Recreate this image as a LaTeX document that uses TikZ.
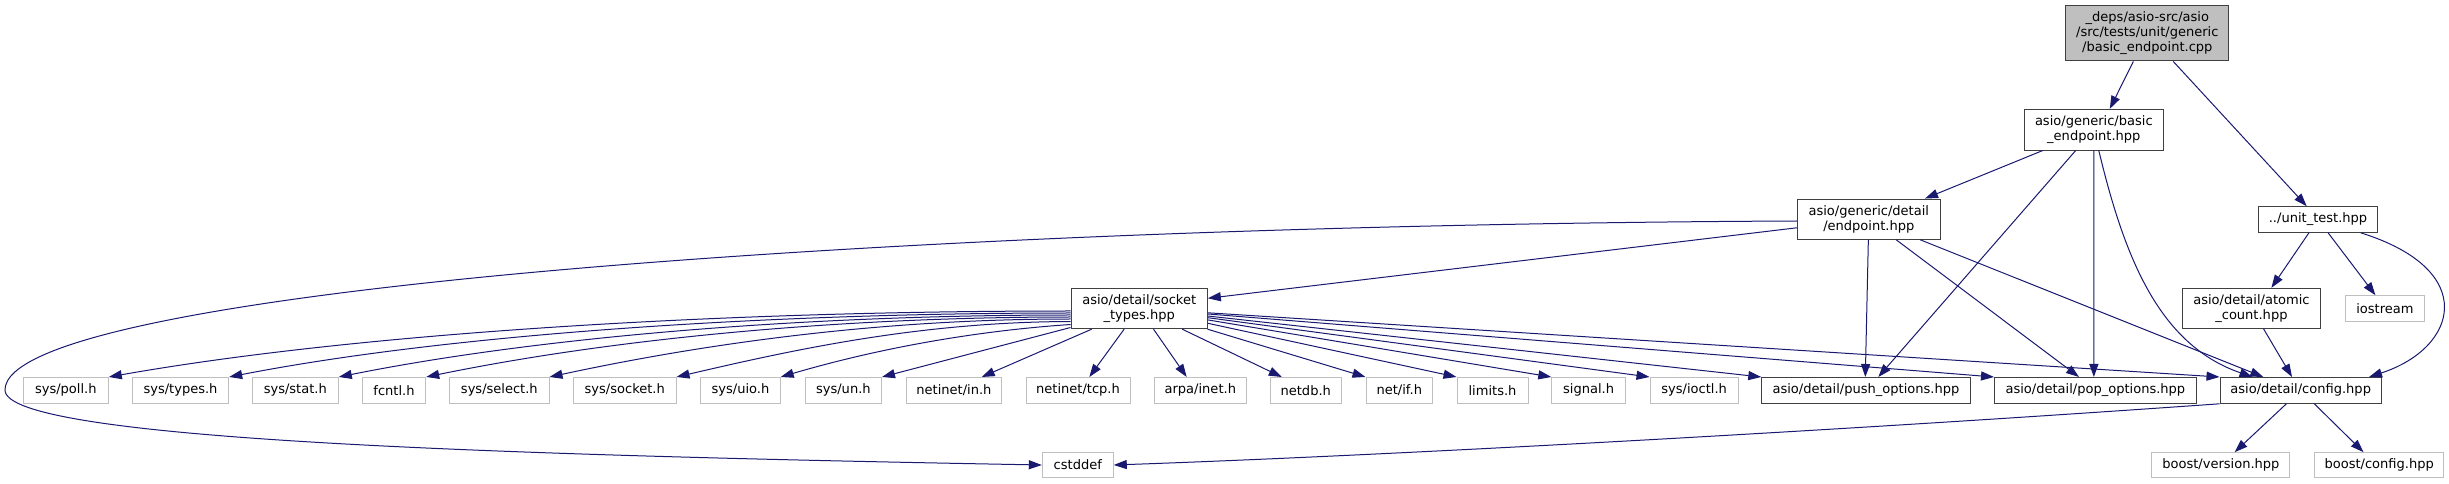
\documentclass[tikz,border=0pt]{standalone}
\usepackage{fontspec}
\setmainfont{DejaVu Sans}
\usetikzlibrary{arrows.meta,calc}
\definecolor{mblue}{HTML}{191970}
\definecolor{dgray}{HTML}{404040}
\definecolor{lgray}{HTML}{BFBFBF}
\tikzset{
  nbox/.style={draw, line width=0.75pt, inner sep=0pt, align=center, text=black,
    font=\fontsize{9.77pt}{11.25pt}\selectfont},
  docbox/.style={nbox, draw=dgray, fill=white},
  extbox/.style={nbox, draw=lgray, fill=white},
  rootbox/.style={nbox, draw=dgray, fill=lgray},
  conn/.style={draw=mblue, line width=0.75pt, -{Triangle[length=9.75pt,width=6.8pt]}},
}
\newcommand\mynode[7]{\node[#2, minimum width=#5*0.75pt, minimum height=#6*0.75pt] (#1) at (#3,#4) {#7};}
\begin{document}
\begin{tikzpicture}[x=0.75pt,y=-0.75pt]
\useasboundingbox (0,0) rectangle (2449,484);
% nodes
\mynode{ntop}{rootbox}{2147.3}{33.3}{163.3}{55.3}{\_deps/asio-src/asio\\/src/tests/unit/generic\\/basic\_endpoint.cpp}
\mynode{nbep}{docbox}{2093.8}{129.7}{139}{40.7}{asio/generic/basic\\\_endpoint.hpp}
\mynode{nep}{docbox}{1868.8}{219.2}{142.4}{40.3}{asio/generic/detail\\/endpoint.hpp}
\mynode{nut}{docbox}{2318}{219.5}{119.2}{25.6}{../unit\_test.hpp}
\mynode{nst}{docbox}{1139.2}{308.5}{136.3}{40.4}{asio/detail/socket\\\_types.hpp}
\mynode{nac}{docbox}{2251.4}{308.3}{138.6}{40}{asio/detail/atomic\\\_count.hpp}
\mynode{nio}{extbox}{2384.9}{308.5}{79.6}{25.6}{iostream}
\mynode{npoll}{extbox}{65.8}{390.4}{85}{25.8}{sys/poll.h}
\mynode{ntypes}{extbox}{180.5}{390.4}{96.4}{25.8}{sys/types.h}
\mynode{nstat}{extbox}{295.3}{390.4}{86}{25.8}{sys/stat.h}
\mynode{nfcntl}{extbox}{394}{390.4}{63.4}{25.8}{fcntl.h}
\mynode{nselect}{extbox}{499.35}{390.4}{99.3}{25.8}{sys/select.h}
\mynode{nsocket}{extbox}{624.75}{390.4}{102.5}{25.8}{sys/socket.h}
\mynode{nuio}{extbox}{740.45}{390.4}{79.5}{25.8}{sys/uio.h}
\mynode{nun}{extbox}{843.35}{390.4}{76.3}{25.8}{sys/un.h}
\mynode{nin}{extbox}{953.95}{390.4}{95.5}{25.8}{netinet/in.h}
\mynode{ntcp}{extbox}{1078}{390.4}{104}{25.8}{netinet/tcp.h}
\mynode{ninet}{extbox}{1200.3}{390.4}{91.6}{25.8}{arpa/inet.h}
\mynode{nnetdb}{extbox}{1305.75}{390.4}{70.5}{25.8}{netdb.h}
\mynode{nnetif}{extbox}{1399.3}{390.4}{66.6}{25.8}{net/if.h}
\mynode{nlimits}{extbox}{1492.5}{390.4}{71}{25.8}{limits.h}
\mynode{nsignal}{extbox}{1588.65}{390.4}{73.7}{25.8}{signal.h}
\mynode{nioctl}{extbox}{1694.1}{390.4}{88.2}{25.8}{sys/ioctl.h}
\mynode{npush}{docbox}{1865.9}{390.4}{208.2}{25.8}{asio/detail/push\_options.hpp}
\mynode{npop}{docbox}{2095.35}{390.4}{201.7}{25.8}{asio/detail/pop\_options.hpp}
\mynode{nconfig}{docbox}{2300.7}{390.4}{161.4}{25.8}{asio/detail/config.hpp}
\mynode{ncst}{extbox}{1077.8}{465}{71}{25.4}{cstddef}
\mynode{nbv}{extbox}{2220.85}{465.2}{138.1}{25}{boost/version.hpp}
\mynode{nbc}{extbox}{2379.2}{465.2}{128.8}{25}{boost/config.hpp}
% edges from root
\draw[conn] (ntop) -- ($(nbep.north)+(16,0)$);
\draw[conn] (ntop) -- ($(nut.north)+(-11.3,0)$);
% edges from basic_endpoint.hpp
\draw[conn] (nbep) -- ($(nep.north)+(56.2,0)$);
\draw[conn] (nbep) -- ($(npush.north)+(12.4,0)$);
\draw[conn] (nbep) -- ($(npop.north)+(-1.5,0)$);
\draw[conn] (nbep) .. controls (2125,260) and (2160,345) .. ($(nconfig.north)+(-48.2,0)$);
% edges from endpoint.hpp
\draw[conn] (nep) -- ($(npush.north)+(-0.6,0)$);
\draw[conn] (nep) -- ($(npop.north)+(-16.35,0)$);
\draw[conn] (nep) -- ($(nconfig.north)+(-37.4,0)$);
\draw[conn] (nep) -- ($(nst.east)+(0,-10.2)$);
\coordinate (bendpt) at (5,390);
\draw[conn] ($(nep.west)+(0,1.8)$) .. controls (900,225) and (5,290) .. (bendpt) .. controls (5,440) and (500,455) .. (ncst.west);
% left fan from socket_types
\draw[conn] ($(nst.west)+(0,2.5)$) .. controls (705,311) and (349,334.5) .. (npoll.north east);
\draw[conn] ($(nst.west)+(0,4.5)$) .. controls (751,313) and (439,336) .. (ntypes.north east);
\draw[conn] ($(nst.west)+(0,6.5)$) .. controls (792,315) and (529,338.75) .. (nstat.north east);
\draw[conn] ($(nst.west)+(0,8.5)$) .. controls (826,317) and (600,341.2) .. (nfcntl.north east);
\draw[conn] ($(nst.west)+(0,10.5)$) .. controls (872,319) and (695,345.7) .. (nselect.north east);
\draw[conn] ($(nst.west)+(0,13)$) .. controls (920,322) and (794.5,349.5) .. (nsocket.north east);
\draw[conn] ($(nst.west)+(0,16)$) .. controls (974,331) and (877,348.7) .. (nuio.north east);
\draw[conn] ($(nst.west)+(0,19)$) -- (nun.north east);
% lower and right fan from socket_types
\draw[conn] (nst) -- ($(nin.north)+(27.75,0)$);
\draw[conn] (nst) -- ($(ntcp.north)+(11.3,0)$);
\draw[conn] (nst) -- ($(ninet.north)+(-13.6,0)$);
\draw[conn] (nst) -- ($(nnetdb.north)+(-24,0)$);
\draw[conn] (nst) -- (nnetif.north west);
\draw[conn] (nst) -- (nlimits.north west);
\draw[conn] (nst) -- (nsignal.north west);
\draw[conn] (nst) -- (nioctl.north west);
\draw[conn] (nst) -- (npush.north west);
\draw[conn] (nst) -- (npop.north west);
\draw[conn] (nst) -- (nconfig.north west);
% unit_test
\draw[conn] (nut) -- ($(nac.north)+(20,0)$);
\draw[conn] (nut) -- ($(nio.north)+(-9.5,0)$);
\draw[conn] (nut) .. controls (2480,270) and (2458,348) .. ($(nconfig.north)+(68.3,0)$);
\draw[conn] (nac) -- ($(nconfig.north)+(-8.7,0)$);
% config
\draw[conn] (nconfig.south west) .. controls (1850,430) and (1400,455) .. (ncst.east);
\draw[conn] (nconfig) -- ($(nbv.north)+(13.75,0)$);
\draw[conn] (nconfig) -- ($(nbc.north)+(-15.7,0)$);
\end{tikzpicture}
\end{document}
